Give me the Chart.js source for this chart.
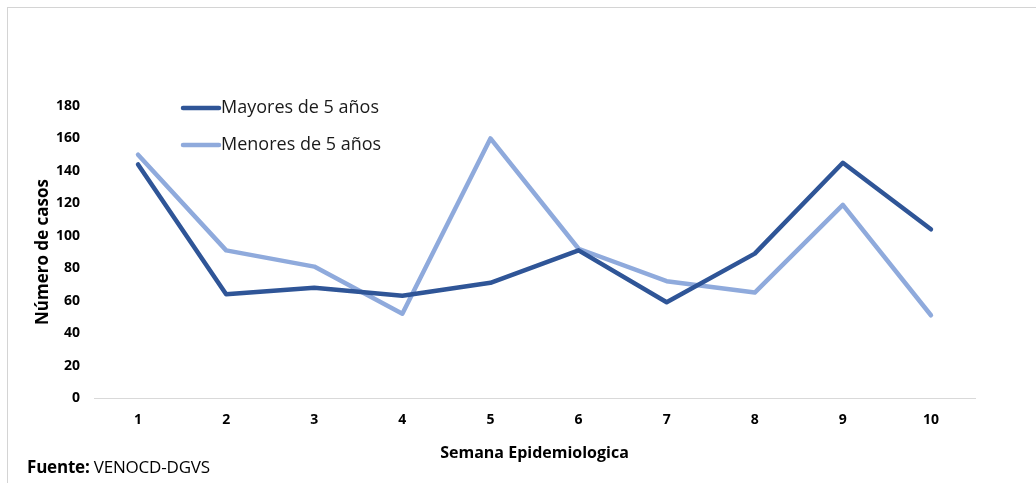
<!DOCTYPE html>
<html lang="es">
<head>
  <meta charset="UTF-8" />
  <title>Casos por semana epidemiologica</title>
  <script src="https://cdn.jsdelivr.net/npm/chart.js"></script>
  <style>
    html, body { margin: 0; padding: 0; background: #fff; overflow: hidden; }
    #wrap { position: relative; width: 1036px; height: 483px; }
    #frame {
      position: absolute; left: 7px; top: 7px; width: 1040px; height: 490px;
      border: 1px solid #d4d4d4; box-sizing: border-box;
    }
    canvas { position: absolute; left: 0; top: 0; }
    #fuente {
      position: absolute; left: 27px; top: 455px;
      font-family: "Open Sans", sans-serif; font-size: 17px; color: #000;
      letter-spacing: -0.2px;
    }
  </style>
</head>
<body>
  <div id="wrap">
    <div id="frame"></div>
    <canvas id="casosChart" width="1036" height="483"></canvas>
    <div id="fuente"><b>Fuente:</b> VENOCD-DGVS</div>
  </div>

  <script>
    // semanas y casos
    const semanas = ['1', '2', '3', '4', '5', '6', '7', '8', '9', '10'];
    const mayores = [144, 64, 68, 63, 71, 91, 59, 89, 145, 104];
    const menores = [150, 91, 81, 52, 160, 92, 72, 65, 119, 51];
    const nombres = ['Mayores de 5 años', 'Menores de 5 años'];
    const colores = ['#2F5597', '#8FAADC'];

    // leyenda dibujada dentro del area del grafico, arriba a la izquierda
    const legendaInterna = {
      id: 'legendaInterna',
      afterDraw(chart) {
        const c = chart.ctx;
        const area = chart.chartArea;
        c.save();
        c.font = '18px "Open Sans", sans-serif';
        c.textBaseline = 'middle';
        chart.data.datasets.forEach((ds, i) => {
          const y = area.top + 2 + i * 37;
          const x = area.left + 89;
          c.strokeStyle = ds.borderColor;
          c.lineWidth = 4.5;
          c.lineCap = 'round';
          c.beginPath();
          c.moveTo(x, y);
          c.lineTo(x + 36, y);
          c.stroke();
          c.fillStyle = '#1a1a1a';
          c.fillText(ds.label, x + 38, y);
        });
        c.restore();
      }
    };

    const ctx = document.getElementById('casosChart').getContext('2d');
    new Chart(ctx, {
      type: 'line',
      data: {
        labels: semanas,
        datasets: [
          { label: nombres[0], data: mayores, borderColor: colores[0], backgroundColor: colores[0] },
          { label: nombres[1], data: menores, borderColor: colores[1], backgroundColor: colores[1] }
        ]
      },
      options: {
        responsive: false,
        animation: false,
        devicePixelRatio: 1,
        layout: { padding: { left: 33, top: 106, right: 61, bottom: 20 } },
        elements: {
          line: { borderWidth: 4.5, tension: 0, borderCapStyle: 'round', borderJoinStyle: 'round' },
          point: { radius: 0, hoverRadius: 0 }
        },
        plugins: {
          legend: { display: false },
          tooltip: { enabled: false }
        },
        scales: {
          x: {
            offset: true,
            grid: { display: false, drawTicks: false },
            border: { display: true, color: '#d9d9d9', width: 1 },
            ticks: { padding: 14, color: '#000', font: { family: 'Open Sans', size: 14, weight: 'bold' } },
            title: { display: true, text: 'Semana Epidemiologica', color: '#000', padding: 0,
                     font: { family: 'Open Sans', size: 16, weight: 'bold' } },
            afterFit(scale) { scale.height = 65; }
          },
          y: {
            min: 0,
            max: 180,
            grid: { display: false, drawTicks: false },
            border: { display: false },
            ticks: { stepSize: 20, padding: 14, color: '#000', font: { family: 'Open Sans', size: 14, weight: 'bold' } },
            title: { display: true, text: 'Número de casos', color: '#000', padding: 0,
                     font: { family: 'Open Sans', size: 17, weight: 'bold' } },
            afterFit(scale) { scale.width = 61; }
          }
        }
      },
      plugins: [legendaInterna]
    });
  </script>
</body>
</html>
